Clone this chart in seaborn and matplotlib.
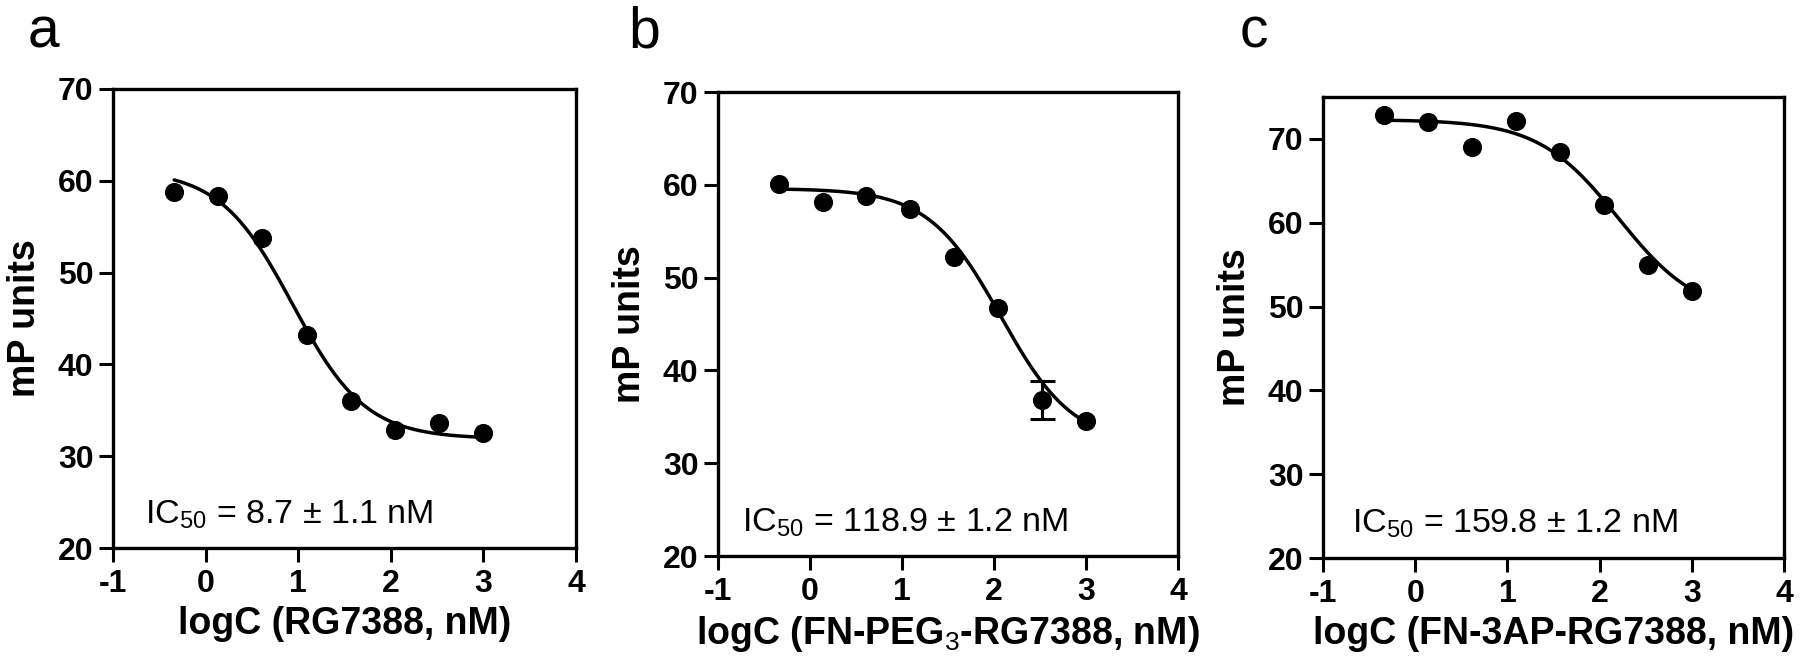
import numpy as np
import matplotlib
matplotlib.use('Agg')
import matplotlib.pyplot as plt
import seaborn as sns

# log10 of the concentrations (nM), 3-fold dilution series
log_conc = [-0.34, 0.137, 0.614, 1.092, 1.569, 2.046, 2.523, 3.0]

# mP readings for each compound
mp_rg7388 = [58.8, 58.3, 53.8, 43.2, 36.0, 32.8, 33.6, 32.5]
mp_peg3 = [60.1, 58.2, 58.8, 57.4, 52.2, 46.7, 36.8, 34.5]
mp_3ap = [72.8, 72.0, 69.0, 72.1, 68.4, 62.1, 54.9, 51.8]

# only one point in panel b carries a visible error bar
err_peg3 = [0, 0, 0, 0, 0, 0, 2.05, 0]

# four-parameter logistic fit: top, bottom, IC50 (nM), hill slope
fit_top = [61.2, 59.6, 72.3]
fit_bottom = [31.9, 32.0, 48.8]
fit_ic50 = [8.7, 118.9, 159.8]
fit_hill = [1.1, 1.1, 1.0]

ic50_labels = [r'IC$_{50}$ = 8.7 ± 1.1 nM',
               r'IC$_{50}$ = 118.9 ± 1.2 nM',
               r'IC$_{50}$ = 159.8 ± 1.2 nM']
x_labels = ['logC (RG7388, nM)',
            r'logC (FN-PEG$_3$-RG7388, nM)',
            'logC (FN-3AP-RG7388, nM)']
panel_letters = ['a', 'b', 'c']
y_limits = [(20, 70), (20, 70), (20, 75)]
x_ticks = [-1, 0, 1, 2, 3, 4]
y_ticks = [20, 30, 40, 50, 60, 70]

sns.set_style('ticks')
plt.rcParams['font.family'] = ['Liberation Sans', 'DejaVu Sans']
plt.rcParams['mathtext.fontset'] = 'custom'
plt.rcParams['mathtext.rm'] = 'Liberation Sans:weight=normal'
plt.rcParams['mathtext.bf'] = 'Liberation Sans:weight=bold'
plt.rcParams['mathtext.default'] = 'rm'
plt.rcParams['axes.unicode_minus'] = False
plt.rcParams['text.color'] = 'black'
plt.rcParams['axes.labelcolor'] = 'black'
plt.rcParams['xtick.color'] = 'black'
plt.rcParams['ytick.color'] = 'black'

W, H = 1800, 669
fig = plt.figure(figsize=(W / 100, H / 100), dpi=100)

# axes boxes in pixels: left, right, top, bottom
boxes = [(113, 576, 89, 548), (718, 1178, 92, 556), (1323, 1784, 97, 558)]
letter_x = [28, 628, 1240]
ic50_pos = [(-0.654, 22.7), (-0.743, 22.6), (-0.685, 23.0)]
series = [mp_rg7388, mp_peg3, mp_3ap]

for i, (l, r, t, b) in enumerate(boxes):
    ax = fig.add_axes([l / W, (H - b) / H, (r - l) / W, (b - t) / H])

    xs = np.linspace(min(log_conc), max(log_conc), 200)
    ys = fit_bottom[i] + (fit_top[i] - fit_bottom[i]) / (
        1 + 10 ** ((xs - np.log10(fit_ic50[i])) * fit_hill[i]))
    sns.lineplot(x=xs, y=ys, color='black', linewidth=2.5, ax=ax,
                 estimator=None, sort=False)
    sns.scatterplot(x=log_conc, y=series[i], color='black', s=190,
                    linewidth=0, ax=ax, zorder=3)
    if i == 1:
        # draw bars only where an error was recorded
        idx = [k for k, e in enumerate(err_peg3) if e > 0]
        ax.errorbar([log_conc[k] for k in idx], [mp_peg3[k] for k in idx],
                    yerr=[err_peg3[k] for k in idx], fmt='none',
                    ecolor='black', elinewidth=2.2, capsize=9, capthick=2.2)

    ax.set_xlim(-1, 4)
    ax.set_ylim(*y_limits[i])
    ax.set_xticks(x_ticks)
    ax.set_yticks(y_ticks)
    ax.tick_params(direction='out', length=10, width=2.2, labelsize=23)
    ax.tick_params(axis='x', pad=5)
    ax.tick_params(axis='y', pad=4)
    for lbl in ax.get_xticklabels() + ax.get_yticklabels():
        lbl.set_fontweight('bold')
    for spine in ax.spines.values():
        spine.set_linewidth(2.4)
        spine.set_color('black')

    ax.set_xlabel(x_labels[i], fontsize=27, fontweight='bold', labelpad=5)
    ax.set_ylabel('mP units', fontsize=27, fontweight='bold', labelpad=11)

    ax.text(ic50_pos[i][0], ic50_pos[i][1], ic50_labels[i], fontsize=24.5,
            va='baseline', ha='left')

    fig.text(letter_x[i] / W, (H - 48) / H, panel_letters[i], fontsize=41,
             va='baseline', ha='left')

fig.savefig('out.png', dpi=100, facecolor='white')
plt.close(fig)
